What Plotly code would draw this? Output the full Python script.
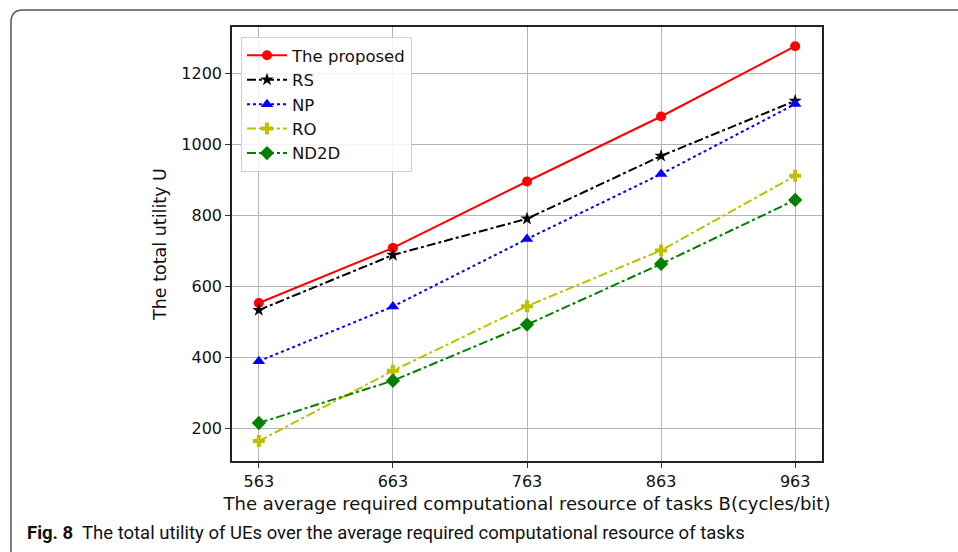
import plotly.graph_objects as go

# Average required computational resource of tasks B (cycles/bit)
b_values = [563, 663, 763, 863, 963]

# Total utility U for each scheme
u_proposed = [553, 708, 895, 1078, 1276]
u_rs = [533, 688, 790, 967, 1122]
u_np = [389, 543, 733, 916, 1113]
u_ro = [164, 362, 544, 701, 911]
u_nd2d = [215, 334, 492, 663, 843]

y_ticks = [200, 400, 600, 800, 1000, 1200]

W, H = 958, 552
L, R, T, B = 232, 136, 27, 91
PW, PH = W - L - R, H - T - B


def px(x):
    return (x - L) / PW


def py(y):
    return (H - B - y) / PH


series = [
    ("The proposed", u_proposed, "#ff0000", "solid", "circle", 10),
    ("RS", u_rs, "#000000", "dashdot", "star", 10),
    ("NP", u_np, "#0000ff", "dot", "triangle-up", 11),
    ("RO", u_ro, "#bfbf00", "dashdot", "cross", 10),
    ("ND2D", u_nd2d, "#008000", "dashdot", "diamond", 11),
]

fig = go.Figure()
for name, vals, color, dash, symbol, size in series:
    fig.add_trace(go.Scatter(
        x=b_values, y=vals, name=name, mode="lines+markers",
        line=dict(color=color, width=2, dash=dash),
        marker=dict(symbol=symbol, size=size, color=color, line=dict(width=0)),
    ))

axis_font = dict(family="DejaVu Sans", size=16, color="#111")

fig.update_xaxes(
    range=[543, 983], tickvals=b_values, ticktext=[str(v) for v in b_values],
    showgrid=True, gridcolor="#b4b4b4", gridwidth=1,
    showline=True, linecolor="#222", linewidth=1.5, mirror=True,
    ticks="outside", ticklen=5, tickcolor="#333", tickfont=axis_font,
    zeroline=False,
    title=dict(text="The average required computational resource of tasks B(cycles/bit)",
               font=dict(family="DejaVu Sans", size=18, color="#111"),
               standoff=7),
)
fig.update_yaxes(
    range=[108, 1330], tickvals=y_ticks,
    showgrid=True, gridcolor="#b4b4b4", gridwidth=1,
    showline=True, linecolor="#222", linewidth=1.5, mirror=True,
    ticks="outside", ticklen=5, tickcolor="#333", tickfont=axis_font,
    zeroline=False,
    title=dict(text="The total utility U",
               font=dict(family="DejaVu Sans", size=17.5, color="#111"),
               standoff=10),
)

# Figure frame with a rounded top-left corner
r = 12
frame = (f"M {px(11)},{py(H + 20)} L {px(11)},{py(10 + r)} "
         f"Q {px(11)},{py(10)} {px(11 + r)},{py(10)} L {px(W + 20)},{py(10)}")
fig.add_shape(type="path", xref="paper", yref="paper", path=frame,
              line=dict(color="#555555", width=1.5))

fig.add_annotation(
    xref="paper", yref="paper", x=px(25), y=py(533), xanchor="left", yanchor="middle",
    showarrow=False,
    text="<b>Fig. 8</b>  The total utility of UEs over the average required computational resource of tasks",
    font=dict(family="Roboto", size=18.5, color="#111"),
)

fig.update_layout(
    width=W, height=H,
    margin=dict(l=L, r=R, t=T, b=B),
    paper_bgcolor="white", plot_bgcolor="white",
    showlegend=True,
    legend=dict(x=px(241), y=py(37), xanchor="left", yanchor="top",
                bgcolor="rgba(255,255,255,0.85)", bordercolor="#d0d0d0", borderwidth=1,
                font=dict(family="DejaVu Sans", size=16.5, color="#111"),
                itemwidth=40, tracegroupgap=2),
)

fig.write_html("out.html")
